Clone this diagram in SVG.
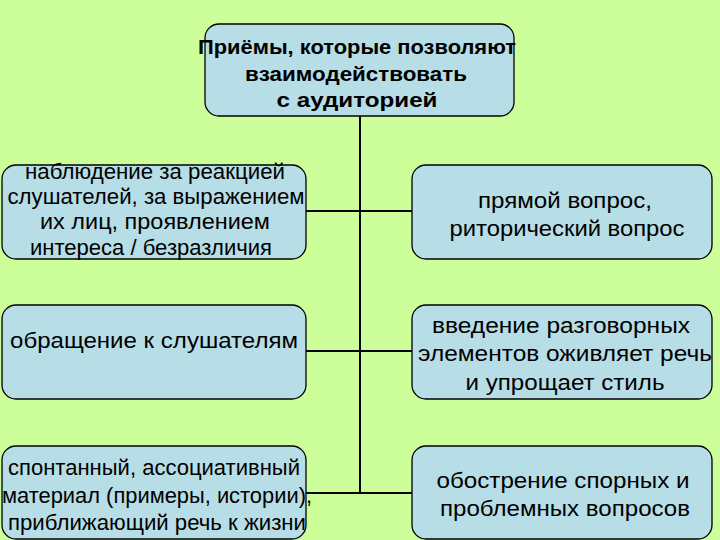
<svg xmlns="http://www.w3.org/2000/svg" width="720" height="540" viewBox="0 0 720 540">
<style>
.box{fill:#b7dde6;stroke:#000;stroke-width:1.3}
.t{font-family:"Liberation Sans",Arial,sans-serif;font-size:22px;fill:#000;text-anchor:middle}
.b{font-weight:bold;font-size:20px}
.c{stroke:#000;stroke-width:2;fill:none}
</style>
<rect width="720" height="540" fill="#ccff99"/>
<g id="connectors">
<line class="c" x1="360" y1="116" x2="360" y2="493"/>
<line class="c" x1="306" y1="211" x2="412" y2="211"/>
<line class="c" x1="306" y1="351" x2="412" y2="351"/>
<line class="c" x1="306" y1="493" x2="412" y2="493"/>
</g>
<g id="top">
<rect class="box" x="205" y="24" width="309" height="92" rx="14"/>
<text class="t b" x="357" y="54" textLength="318" lengthAdjust="spacingAndGlyphs">Приёмы, которые позволяют</text>
<text class="t b" x="356" y="81" textLength="222" lengthAdjust="spacingAndGlyphs">взаимодействовать</text>
<text class="t b" x="357" y="107" textLength="161" lengthAdjust="spacingAndGlyphs">с аудиторией</text>
</g>
<g id="l1">
<rect class="box" x="2" y="165" width="304" height="94" rx="14"/>
<text class="t" x="155" y="179" textLength="260" lengthAdjust="spacingAndGlyphs">наблюдение за реакцией</text>
<text class="t" x="156" y="204" textLength="297" lengthAdjust="spacingAndGlyphs">слушателей, за выражением</text>
<text class="t" x="155" y="229" textLength="230" lengthAdjust="spacingAndGlyphs">их лиц, проявлением</text>
<text class="t" x="151" y="255" textLength="242" lengthAdjust="spacingAndGlyphs">интереса / безразличия</text>
</g>
<g id="r1">
<rect class="box" x="412" y="165" width="300" height="94" rx="14"/>
<text class="t" x="565" y="208" textLength="174" lengthAdjust="spacingAndGlyphs">прямой вопрос,</text>
<text class="t" x="567" y="236" textLength="235" lengthAdjust="spacingAndGlyphs">риторический вопрос</text>
</g>
<g id="l2">
<rect class="box" x="2" y="305" width="304" height="94" rx="14"/>
<text class="t" x="154" y="348" textLength="288" lengthAdjust="spacingAndGlyphs">обращение к слушателям</text>
</g>
<g id="r2">
<rect class="box" x="412" y="305" width="300" height="94" rx="14"/>
<text class="t" x="561" y="333" textLength="258" lengthAdjust="spacingAndGlyphs">введение разговорных</text>
<text class="t" x="565" y="361" textLength="294" lengthAdjust="spacingAndGlyphs">элементов оживляет речь</text>
<text class="t" x="565" y="390" textLength="199" lengthAdjust="spacingAndGlyphs">и упрощает стиль</text>
</g>
<g id="l3">
<rect class="box" x="2" y="446" width="304" height="93" rx="14"/>
<text class="t" x="154" y="475" textLength="292" lengthAdjust="spacingAndGlyphs">спонтанный, ассоциативный</text>
<text class="t" x="157" y="503" textLength="310" lengthAdjust="spacingAndGlyphs">материал (примеры, истории),</text>
<text class="t" x="157" y="530" textLength="298" lengthAdjust="spacingAndGlyphs">приближающий речь к жизни</text>
</g>
<g id="r3">
<rect class="box" x="412" y="446" width="300" height="93" rx="14"/>
<text class="t" x="563" y="488" textLength="253" lengthAdjust="spacingAndGlyphs">обострение спорных и</text>
<text class="t" x="565" y="516" textLength="250" lengthAdjust="spacingAndGlyphs">проблемных вопросов</text>
</g>
</svg>
